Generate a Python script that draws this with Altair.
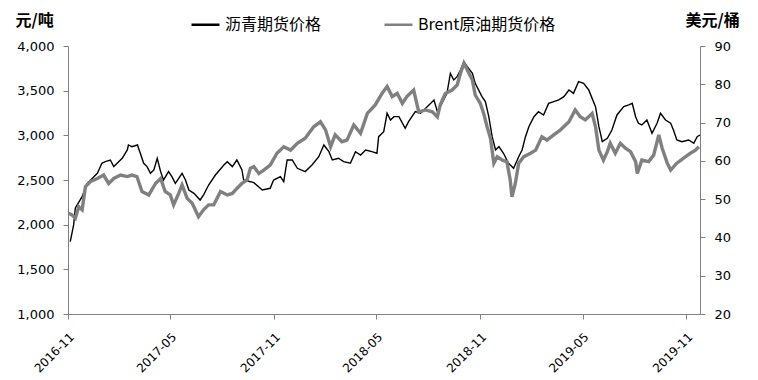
import altair as alt
import pandas as pd

start = pd.Timestamp("2016-11-01")

asphalt_days = [4, 10, 13, 25, 34, 52, 60, 66, 75, 81, 87, 96, 105, 107, 113, 123, 128, 134, 140, 146,
                152, 158, 164, 169, 178, 184, 190, 202, 208, 214, 223, 234, 240, 249, 261, 276, 282, 291,
                299, 308, 311, 323, 329, 344, 358, 364, 376, 382, 388, 397, 406, 420, 432, 444, 453, 462,
                468, 479, 488, 500, 509, 518, 527, 538, 547, 550, 559, 565, 571, 577, 586, 597, 603, 615,
                624, 636, 648, 654, 662, 671, 677, 683, 689, 695, 701, 707, 716, 721, 733, 739, 745, 751,
                757, 763, 771, 780, 789, 798, 804, 810, 816, 825, 833, 842, 851, 860, 869, 878, 887, 895,
                904, 913, 922, 934, 940, 946, 955, 963, 972, 984, 993, 999, 1005, 1010, 1016, 1025, 1034,
                1043, 1049, 1058, 1067, 1072, 1078, 1087, 1099, 1108, 1114, 1119]
asphalt_price = [1809, 1997, 2187, 2313, 2463, 2575, 2687, 2705, 2724, 2650, 2687, 2743, 2836, 2892, 2873,
                 2892, 2799, 2687, 2650, 2575, 2612, 2743, 2594, 2500, 2594, 2538, 2463, 2575, 2500, 2388,
                 2351, 2276, 2332, 2444, 2556, 2668, 2705, 2650, 2724, 2612, 2500, 2481, 2470, 2388, 2407,
                 2500, 2538, 2481, 2724, 2724, 2631, 2594, 2668, 2761, 2892, 2817, 2724, 2743, 2705, 2687,
                 2817, 2780, 2836, 2817, 2799, 2985, 3041, 3247, 3172, 3209, 3209, 3079, 3153, 3265, 3247,
                 3321, 3396, 3265, 3358, 3470, 3694, 3620, 3657, 3731, 3825, 3769, 3694, 3582, 3433, 3377,
                 3209, 2985, 2836, 2873, 2799, 2687, 2631, 2761, 2836, 2985, 3097, 3209, 3265, 3228, 3358,
                 3377, 3396, 3433, 3508, 3470, 3601, 3582, 3508, 3321, 3097, 2929, 2967, 3060, 3228, 3321,
                 3340, 3358, 3209, 3135, 3116, 3172, 3023, 3135, 3247, 3172, 3135, 3060, 2948, 2929, 2948,
                 2911, 2985, 3004]

brent_days = [1, 7, 13, 19, 25, 31, 40, 52, 63, 72, 81, 93, 105, 113, 122, 131, 143, 155, 164, 172, 181,
              187, 196, 202, 211, 220, 231, 240, 249, 258, 270, 282, 291, 299, 308, 317, 323, 329, 338, 346,
              358, 370, 382, 394, 406, 420, 435, 447, 456, 465, 473, 485, 494, 506, 518, 530, 544, 556, 565,
              574, 583, 592, 600, 612, 621, 633, 645, 654, 659, 668, 680, 689, 695, 701, 707, 716, 721, 730,
              736, 742, 748, 754, 760, 769, 777, 783, 786, 792, 798, 807, 819, 828, 839, 848, 860, 872, 887,
              898, 907, 916, 928, 934, 940, 948, 955, 960, 969, 978, 987, 996, 1005, 1008, 1016, 1028, 1037,
              1046, 1052, 1061, 1067, 1078, 1090, 1102, 1111, 1117]
brent_price = [46.3, 45.9, 45.0, 48.0, 47.2, 53.3, 54.6, 55.4, 56.3, 54.1, 55.4, 56.3, 55.9, 56.3, 55.9,
               52.0, 51.1, 54.1, 55.4, 52.0, 51.1, 48.5, 51.5, 53.7, 50.2, 48.9, 45.4, 47.2, 48.5, 48.5,
               52.0, 51.1, 51.5, 52.8, 54.1, 55.0, 58.1, 58.5, 56.7, 57.5, 58.9, 62.0, 63.7, 62.8, 64.6,
               65.9, 68.9, 70.2, 68.1, 63.7, 66.8, 65.0, 65.4, 69.4, 67.2, 72.4, 74.6, 77.6, 79.4, 76.8,
               77.6, 75.0, 76.8, 78.5, 72.8, 73.3, 72.8, 71.5, 74.6, 77.6, 78.5, 79.8, 82.9, 85.5, 83.7,
               81.1, 77.2, 75.0, 72.4, 68.9, 65.9, 59.4, 61.1, 60.2, 59.8, 55.0, 50.6, 54.1, 59.4, 61.1,
               62.0, 62.8, 66.3, 65.4, 66.8, 68.1, 70.2, 73.3, 71.5, 70.7, 72.4, 68.9, 62.8, 60.2, 62.4,
               64.6, 62.0, 64.6, 63.3, 62.4, 59.8, 56.7, 60.2, 59.8, 61.5, 66.8, 63.3, 59.4, 57.6, 59.4,
               60.7, 62.0, 62.8, 63.7]

series_names = ["沥青期货价格", "Brent原油期货价格"]
series_colors = ["#000000", "#808080"]
x_ticks = ["2016-11", "2017-05", "2017-11", "2018-05", "2018-11", "2019-05", "2019-11"]
left_ticks = [1000, 1500, 2000, 2500, 3000, 3500, 4000]
right_ticks = [20, 30, 40, 50, 60, 70, 80, 90]


def to_dates(days):
    return [(start + pd.Timedelta(days=d)).strftime("%Y-%m-%dT00:00:00") for d in days]


df_a = pd.DataFrame({"date": to_dates(asphalt_days), "price": asphalt_price, "series": series_names[0]})
df_b = pd.DataFrame({"date": to_dates(brent_days), "price": brent_price, "series": series_names[1]})

LABEL_FONT = "DejaVu Sans"
CJK_FONT = "Noto Sans CJK SC"

x_enc = alt.X(
    "date:T",
    scale=alt.Scale(
        domain=[alt.DateTime(year=2016, month=11, date=1), alt.DateTime(year=2019, month=11, date=25)],
        nice=False,
    ),
    axis=alt.Axis(
        values=[alt.DateTime(year=int(t[:4]), month=int(t[5:]), date=1) for t in x_ticks],
        format="%Y-%m",
        labelAngle=-45,
        labelAlign="right",
        labelBaseline="top",
        labelPadding=12,
        labelFontSize=12,
        title=None,
    ),
)

color_scale = alt.Scale(domain=series_names, range=series_colors)
legend = alt.Legend(
    orient="none",
    legendX=122,
    legendY=-37,
    direction="horizontal",
    title=None,
    symbolType="stroke",
    symbolSize=784,
    symbolStrokeWidth=2.5,
    labelFont=CJK_FONT,
    labelFontSize=16,
    labelColor="#000000",
    columnPadding=57,
    labelOffset=4,
    padding=0,
)
color_enc = alt.Color("series:N", scale=color_scale, legend=legend)

line_a = alt.Chart(df_a).mark_line(strokeWidth=1.4, interpolate="linear").encode(
    x=x_enc,
    y=alt.Y(
        "price:Q",
        scale=alt.Scale(domain=[1000, 4000], nice=False, zero=False),
        axis=alt.Axis(
            orient="left",
            values=left_ticks,
            format=",.0f",
            labelPadding=9,
            title="元/吨",
            titleAngle=0,
            titleX=-53,
            titleY=-26,
            titleAlign="left",
            titleBaseline="middle",
            titleFont=CJK_FONT,
            titleFontSize=16,
            titleFontWeight="bold",
        ),
    ),
    color=color_enc,
)

line_b = alt.Chart(df_b).mark_line(strokeWidth=3.4, interpolate="linear").encode(
    x=x_enc,
    y=alt.Y(
        "price:Q",
        scale=alt.Scale(domain=[20, 90], nice=False, zero=False),
        axis=alt.Axis(
            orient="right",
            values=right_ticks,
            format=".0f",
            labelPadding=9,
            title="美元/桶",
            titleAngle=0,
            titleX=-15,
            titleY=-26,
            titleAlign="left",
            titleBaseline="middle",
            titleFont=CJK_FONT,
            titleFontSize=16,
            titleFontWeight="bold",
        ),
    ),
    color=color_enc,
)

chart = (
    alt.layer(line_a, line_b)
    .resolve_scale(y="independent")
    .properties(
        width=632,
        height=268,
        autosize=alt.AutoSizeParams(type="none"),
        padding={"left": 68, "top": 46, "right": 58, "bottom": 66},
        background="white",
    )
    .configure_view(stroke=None)
    .configure_axis(
        grid=False,
        domainColor="#808080",
        tickColor="#808080",
        tickSize=5,
        labelFont=LABEL_FONT,
        labelFontSize=13,
        labelColor="#000000",
        titleColor="#000000",
    )
)

chart.save("out.html", embed_options={"renderer": "svg", "actions": False})
